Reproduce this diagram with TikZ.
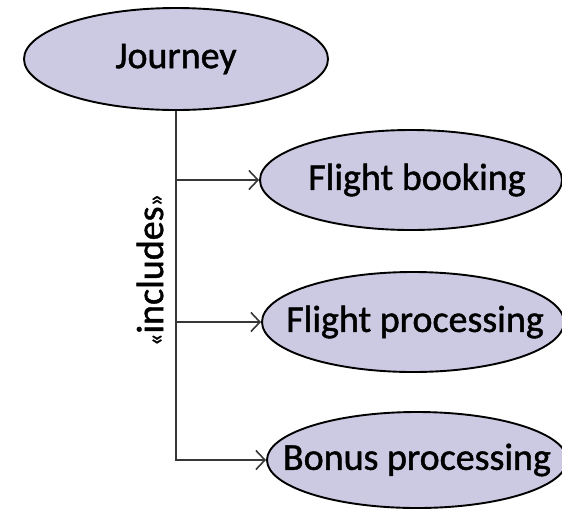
\documentclass[tikz,border=0pt]{standalone}
\usepackage{fontspec}
\setmainfont{Carlito}[FakeBold=1.2]
\usetikzlibrary{shapes.geometric,arrows.meta}
\definecolor{ucfill}{RGB}{204,202,226}
\definecolor{linegray}{RGB}{55,55,55}
\newcommand{\uctext}[2][0pt]{\hspace*{#1}\makebox[0pt][c]{#2}}
\tikzset{
  usecase/.style={ellipse,draw=black,line width=1.9pt,fill=ucfill,inner sep=0pt,
    font=\fontsize{38}{40}\selectfont},
  conn/.style={draw=linegray,line width=1.9pt,-{Straight Barb[length=9pt,width=19pt,line width=1.6pt]}},
  stereo/.style={font=\fontsize{38}{40}\selectfont,rotate=90,inner sep=0pt}
}
\begin{document}
\begin{tikzpicture}[x=1pt,y=-1pt]
\useasboundingbox (0,0) rectangle (562,512);
\node[usecase,minimum width=304pt,minimum height=102pt] (j) at (176,59) {\uctext{Journey}};
\node[usecase,minimum width=302pt,minimum height=100pt] (fb) at (411,180) {\uctext[12pt]{Flight booking}};
\node[usecase,minimum width=302pt,minimum height=100pt] (fp) at (413,322) {\uctext[4pt]{Flight processing}};
\node[usecase,minimum width=300pt,minimum height=96pt] (bp) at (417,460) {\uctext{Bonus processing}};
\draw[conn] (j) |- (fb);
\draw[conn] (j) |- (fp);
\draw[conn] (j) |- (bp);
\node[stereo] (lab) at (150,270) {{\fontsize{24}{26}\selectfont«}includes{\fontsize{24}{26}\selectfont»}};
\end{tikzpicture}
\end{document}
